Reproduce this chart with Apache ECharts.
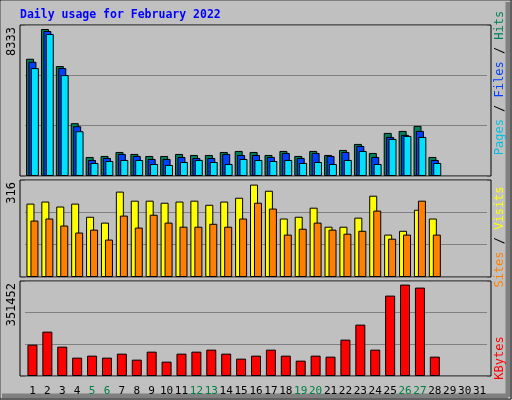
<!DOCTYPE html>
<html><head><meta charset="utf-8">
<script src="https://cdn.jsdelivr.net/npm/echarts@6/dist/echarts.min.js"></script>
<style>html,body{margin:0;padding:0;background:#c0c0c0}#c{width:512px;height:400px}</style>
</head><body><div id="c"></div>
<script>
const days = Array.from({length:31},(_,i)=>String(i+1));
const weekend = ['5','6','12','13','19','20','26','27'];
const hits  = [6646,8333,6231,2993,1079,1136,1363,1250,1136,1136,1250,1193,1193,1363,1420,1363,1193,1420,1136,1420,1193,1477,1818,1306,2442,2556,2840,1079];
const files = [6475,8219,6117,2823,909,1022,1250,1136,966,966,1079,1022,1022,1250,1193,1193,1079,1306,1022,1306,1136,1363,1704,1079,2215,2329,2556,909];
const pages = [6117,8049,5720,2539,738,852,909,909,682,625,795,909,795,682,966,909,852,909,738,795,682,909,1420,682,2102,2272,2215,738];
const visits= [251,258,241,251,206,186,292,261,261,254,258,261,247,258,271,316,295,200,206,237,172,172,203,278,145,158,230,200];
const sites = [193,200,176,152,162,128,210,169,213,186,172,172,182,172,200,254,234,145,165,186,162,148,158,227,131,145,261,145];
const kbytes= [120574,170600,112878,70550,78245,70550,85941,62852,93637,55156,85941,93637,101333,85941,66700,78245,101333,78245,59004,78245,74397,139814,197536,101333,309131,351452,339916,74397];

const maxHits = Math.max(...hits), maxVis = Math.max(...visits), maxKB = Math.max(...kbytes);
const topMax = maxHits*151/147, midMax = maxVis*97/92.4, botMax = maxKB*95/91.4;
const mono = 'DejaVu Sans Mono';
const grids = [{top:25,height:151},{top:180,height:97},{top:281,height:95}].map(g=>({left:25,right:25,top:g.top,height:g.height}));
function xa(i,show){return {gridIndex:i,type:'category',data:days,axisLine:{show:false},axisTick:{show:false},
  axisLabel:{show:show,fontFamily:mono,fontSize:11,margin:10,interval:0,color:'#000',
    formatter:v=>weekend.includes(v)?'{w|'+v+'}':v,rich:{w:{color:'#008040',fontFamily:mono,fontSize:11}}}};}
function ya(i,max){return {gridIndex:i,type:'value',min:0,max:max,interval:max/3,axisLabel:{show:false},axisLine:{show:false},axisTick:{show:false},
  splitLine:{show:true,lineStyle:{color:'#808080',width:1}}};}
const bs = {borderColor:'#000',borderWidth:1};
function bar(name,data,xi,color,w,gap){return {name,type:'bar',xAxisIndex:xi,yAxisIndex:xi,data,barWidth:w,barGap:gap,
  itemStyle:Object.assign({color},bs),animation:false,silent:true};}
function frame(top,h){return {type:'rect',shape:{x:20,y:top,width:471,height:h},style:{fill:'none',stroke:'#000',lineWidth:1},z:-1};}
function vlabel(txt,x,y){return {type:'text',x:x,y:y,rotation:Math.PI/2,style:{text:txt,fontFamily:mono,fontSize:12,fill:'#000',align:'right',verticalAlign:'middle'}};}
function rlabel(parts,x,y){return {type:'text',x:x,y:y,rotation:Math.PI/2,style:{text:parts.map(p=>'{'+p[1]+'|'+p[0]+'}').join(''),
  rich:Object.fromEntries(parts.map(p=>[p[1],{fill:p[2],fontFamily:mono,fontSize:12}])),align:'center',verticalAlign:'middle'}};}
const chart = echarts.init(document.getElementById('c'));
chart.setOption({
  backgroundColor:'#c0c0c0',
  grid:grids,
  xAxis:[xa(0,false),xa(1,false),xa(2,true)],
  yAxis:[ya(0,topMax),ya(1,midMax),ya(2,botMax)],
  series:[
    bar('Hits',hits,0,'#00805c',8,'-70%'),
    bar('Files',files,0,'#0040ff',8,'-70%'),
    bar('Pages',pages,0,'#00e0ff',8,'-70%'),
    bar('Visits',visits,1,'#ffff00',8,'-50%'),
    bar('Sites',sites,1,'#ff8000',8,'-50%'),
    bar('KBytes',kbytes,2,'#ff0000',10,'0%')
  ],
  graphic:[
    {type:'rect',shape:{x:0.5,y:0.5,width:510,height:398},style:{fill:'none',stroke:'#fff',lineWidth:1},z:-2},
    {type:'line',shape:{x1:508,y1:2,x2:508,y2:397},style:{stroke:'#808080',lineWidth:5},z:-2},
    {type:'line',shape:{x1:2,y1:396,x2:508,y2:396},style:{stroke:'#808080',lineWidth:5},z:-2},
    {type:'rect',shape:{x:0,y:0,width:511,height:399},style:{fill:'none',stroke:'#000',lineWidth:1},z:-2},
    frame(25,151),frame(180,97),frame(281,95),
    {type:'text',x:20,y:15,style:{text:'Daily usage for February 2022',fontFamily:mono,fontWeight:'bold',fontSize:11.5,fill:'#0000ff',verticalAlign:'middle'}},
    vlabel(String(maxHits),12,27),vlabel(String(maxVis),12,182),vlabel(String(maxKB),12,283),
    rlabel([['Pages','a','#00c0e0'],[' / ','s','#000'],['Files','b','#0040ff'],[' / ','t','#000'],['Hits','c','#00805c']],500,83),
    rlabel([['Sites','a','#ff8000'],[' / ','s','#000'],['Visits','b','#ffff00']],500,237),
    rlabel([['KBytes','a','#ff0000']],500,358)
  ]
});
</script></body></html>
